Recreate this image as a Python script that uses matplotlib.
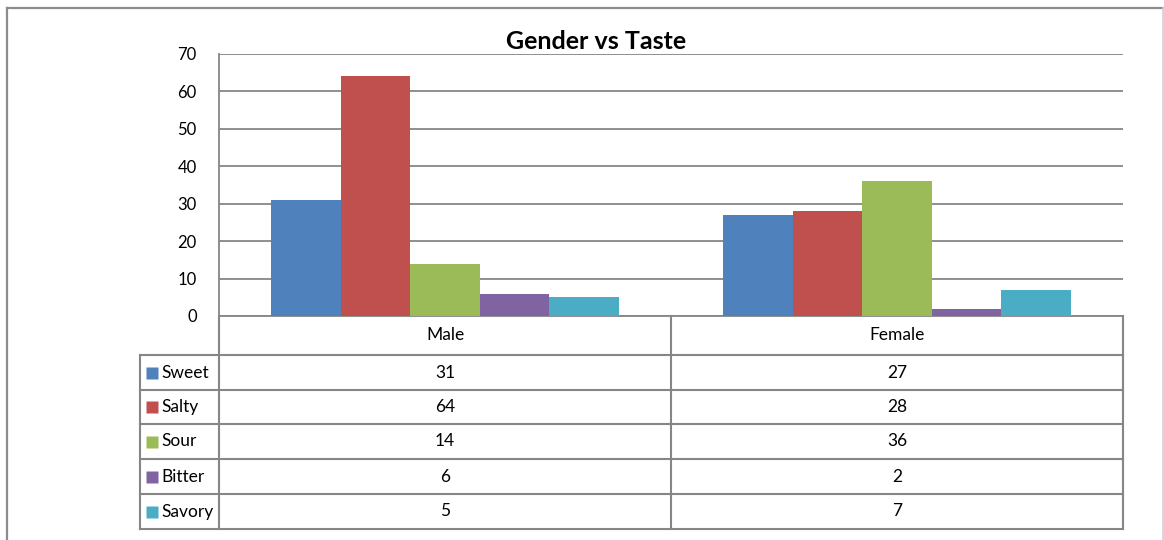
import matplotlib
matplotlib.use("Agg")
import matplotlib.pyplot as plt
from matplotlib.lines import Line2D

plt.rcParams['font.family'] = ['Lato', 'DejaVu Sans']

# 数据
genders = ["Male", "Female"]
tastes = ["Sweet", "Salty", "Sour", "Bitter", "Savory"]
sweet = [31, 27]
salty = [64, 28]
sour = [14, 36]
bitter = [6, 2]
savory = [5, 7]
values = [sweet, salty, sour, bitter, savory]
colors = ["#4F81BD", "#C0504D", "#9BBB59", "#8064A2", "#4BACC6"]

W, H = 1164, 540
grid_c = "#868686"


def fx(px):
    return px / W


def fy(py):
    return 1 - py / H


fig = plt.figure(figsize=(W / 100, H / 100), dpi=100)

# 外框
fig.add_artist(Line2D([fx(7), fx(1163)], [fy(8), fy(8)], color="#8c8c8c", lw=1.6))
fig.add_artist(Line2D([fx(7), fx(7)], [fy(8), fy(545)], color="#8c8c8c", lw=1.6))
fig.add_artist(Line2D([fx(1163), fx(1163)], [fy(8), fy(545)], color="#d0d0d0", lw=1.2))

# 柱状图
ax = fig.add_axes([fx(219), fy(316), (1123 - 219) / W, (316 - 54) / H])
n = len(tastes)
bw = 1 / (n + 1.5)
for i, (name, vals, c) in enumerate(zip(tastes, values, colors)):
    xs = [g + (i - (n - 1) / 2) * bw for g in range(len(genders))]
    ax.bar(xs, vals, width=bw, color=c, zorder=3, label=name)

ax.set_xlim(-0.5, 1.5)
ax.set_ylim(0, 70)
ax.set_yticks(range(0, 71, 10))
ax.set_xticks([])
ax.yaxis.grid(True, color=grid_c, lw=1.3, zorder=0)
for s in ["top", "right"]:
    ax.spines[s].set_visible(False)
for s in ["left", "bottom"]:
    ax.spines[s].set_color(grid_c)
    ax.spines[s].set_linewidth(1.3)
ax.tick_params(axis="y", length=0, pad=16, labelsize=12)

fig.text(fx(596), fy(42), "Gender vs Taste", ha="center", va="center",
         fontsize=18, fontweight="bold")

# 数据表
tax = fig.add_axes([fx(219), fy(529), (1123 - 219) / W, 213 / H])
tax.set_xlim(-0.5, 1.5)
tax.set_ylim(213, 0)
tax.axis("off")
rows = [0, 39, 74, 108, 143, 178, 213]
xl = -0.5 - 79 / 452
lk = dict(color=grid_c, lw=1.5, clip_on=False)
for y in rows[1:]:
    tax.plot([xl, 1.5], [y, y], **lk)
for x in [-0.5, 0.5, 1.5]:
    tax.plot([x, x], [0, 213], **lk)
tax.plot([xl, xl], [39, 213], **lk)

for g, name in enumerate(genders):
    tax.text(g, 19.5, name, ha="center", va="center", fontsize=12.5)
for i, (name, vals, c) in enumerate(zip(tastes, values, colors)):
    yc = (rows[i + 1] + rows[i + 2]) / 2
    tax.plot([-0.5 - 67 / 452], [yc], marker="s", ms=8, color=c,
             mec="none", clip_on=False)
    tax.text(-0.5 - 58 / 452, yc, name, ha="left", va="center", fontsize=12.5)
    for g, v in enumerate(vals):
        tax.text(g, yc, str(v), ha="center", va="center", fontsize=12.5)

fig.savefig("out.png", dpi=100, facecolor="white")
